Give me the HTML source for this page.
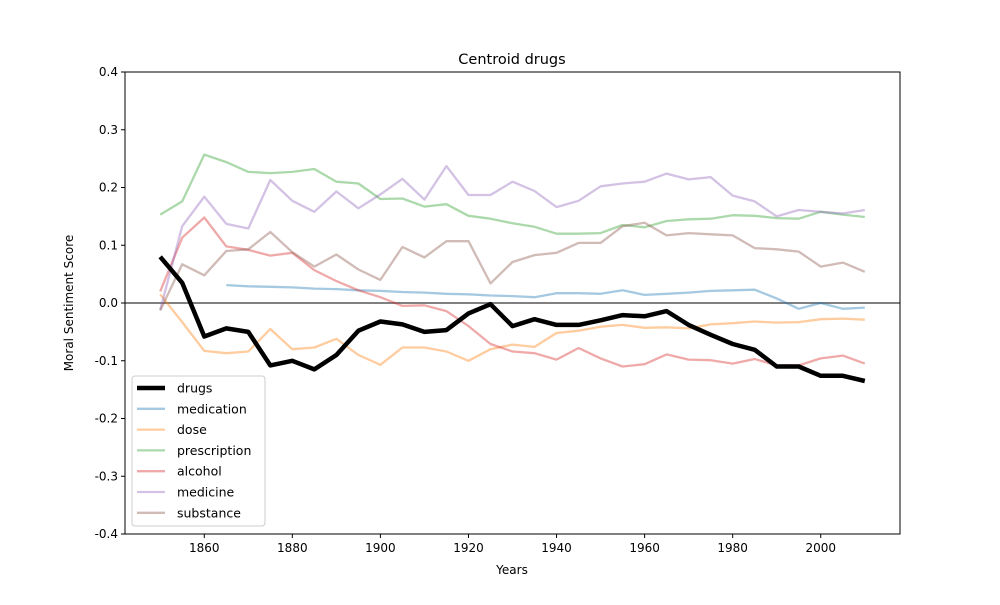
<!DOCTYPE html>
<html><head><meta charset="utf-8"><style>body{margin:0;background:#fff}svg{font-family:"DejaVu Sans","Liberation Sans",sans-serif}</style></head>
<body>
<svg id="c" width="1000" height="600"></svg>
<script>
const years=[];for(let y=1850;y<=2010;y+=5)years.push(y);
const drugs=[0.08,0.035,-0.058,-0.044,-0.05,-0.108,-0.1,-0.115,-0.09,-0.048,-0.032,-0.037,-0.05,-0.047,-0.018,-0.002,-0.04,-0.028,-0.038,-0.038,-0.03,-0.021,-0.023,-0.014,-0.038,-0.055,-0.071,-0.081,-0.11,-0.11,-0.126,-0.126,-0.135];
const medication=[null,null,null,0.031,0.029,0.028,0.027,0.025,0.024,0.022,0.021,0.019,0.018,0.016,0.015,0.013,0.012,0.010,0.017,0.017,0.016,0.022,0.014,0.016,0.018,0.021,0.022,0.023,0.008,-0.01,0,-0.01,-0.008];
const dose=[0.015,-0.033,-0.083,-0.087,-0.084,-0.045,-0.08,-0.077,-0.062,-0.09,-0.107,-0.077,-0.077,-0.084,-0.1,-0.08,-0.072,-0.076,-0.052,-0.048,-0.041,-0.038,-0.043,-0.042,-0.044,-0.037,-0.035,-0.032,-0.034,-0.033,-0.028,-0.027,-0.029];
const prescription=[0.153,0.176,0.257,0.244,0.227,0.225,0.227,0.232,0.21,0.207,0.18,0.181,0.167,0.171,0.151,0.146,0.138,0.132,0.12,0.12,0.121,0.135,0.131,0.142,0.145,0.146,0.152,0.151,0.147,0.146,0.158,0.153,0.149];
const alcohol=[0.02,0.113,0.148,0.098,0.092,0.082,0.087,0.057,0.038,0.022,0.01,-0.005,-0.004,-0.014,-0.04,-0.071,-0.084,-0.087,-0.098,-0.078,-0.096,-0.11,-0.106,-0.089,-0.098,-0.099,-0.105,-0.097,-0.108,-0.108,-0.096,-0.091,-0.105];
const medicine=[-0.012,0.133,0.184,0.137,0.129,0.213,0.177,0.158,0.193,0.164,0.188,0.215,0.179,0.237,0.187,0.187,0.21,0.194,0.166,0.177,0.202,0.207,0.21,0.224,0.214,0.218,0.186,0.176,0.15,0.161,0.158,0.155,0.161];
const substance=[-0.013,0.067,0.048,0.09,0.093,0.123,0.088,0.063,0.084,0.058,0.04,0.097,0.079,0.107,0.107,0.034,0.071,0.083,0.087,0.104,0.104,0.133,0.139,0.117,0.121,0.119,0.117,0.095,0.093,0.089,0.063,0.07,0.054];
const xTicks=[1860,1880,1900,1920,1940,1960,1980,2000];
const yTicks=[-0.4,-0.3,-0.2,-0.1,0.0,0.1,0.2,0.3,0.4];
const L=125,R=900,T=72,B=534;
const xs=y=>L+(y-1842)/(2018-1842)*(R-L);
const ys=v=>B-(v+0.4)/0.8*(B-T);
const svg=document.getElementById('c');const NS='http://www.w3.org/2000/svg';
function mk(t,a,txt){const e=document.createElementNS(NS,t);for(const k in a)e.setAttribute(k,a[k]);if(txt!==undefined)e.textContent=txt;svg.appendChild(e);return e;}
let e=mk('text',{x:512,y:64,'text-anchor':'middle','font-size':14.5},'Centroid drugs');


xTicks.forEach(t=>{mk('line',{x1:xs(t),x2:xs(t),y1:B,y2:B+4,stroke:'#000'});
 const tx=mk('text',{x:xs(t),y:B+18,'text-anchor':'middle','font-size':12},String(t));
 
 });
yTicks.forEach(t=>{mk('line',{x1:L-4,x2:L,y1:ys(t),y2:ys(t),stroke:'#000'});
 const tx=mk('text',{x:L-7,y:ys(t)+4,'text-anchor':'end','font-size':12},t.toFixed(1));
 
 });
e=mk('text',{x:512,y:574,'text-anchor':'middle','font-size':12},'Years');


e=mk('text',{x:73,y:303,'text-anchor':'middle','font-size':12,transform:'rotate(-90 73 303)'},'Moral Sentiment Score');


mk('line',{x1:L,x2:R,y1:ys(0),y2:ys(0),stroke:'#808080','stroke-width':2});
const series=[['medication',medication,'#1f77b4'],['dose',dose,'#ff7f0e'],['prescription',prescription,'#2ca02c'],['alcohol',alcohol,'#d62728'],['medicine',medicine,'#9467bd'],['substance',substance,'#8c564b']];
function path(vals){let d='';let st=true;vals.forEach((v,i)=>{if(v===null){st=true;return;}d+=(st?'M':'L')+xs(years[i]).toFixed(1)+','+ys(v).toFixed(1);st=false;});return d;}
series.forEach(s=>{const p=mk('path',{d:path(s[1]),fill:'none',stroke:s[2],'stroke-width':2.3,'stroke-opacity':0.4,'stroke-linejoin':'round'});
 
 });
e=mk('path',{d:path(drugs),fill:'none',stroke:'#000','stroke-width':4.5,'stroke-linejoin':'round'});


mk('rect',{x:L,y:T,width:R-L,height:B-T,fill:'none',stroke:'#000','stroke-width':1});
const lg=mk('rect',{x:132,y:376,width:133,height:150,fill:'#fff','fill-opacity':0.8,stroke:'#ccc',rx:3});


const entries=[['drugs','#000',1,4.5]].concat(series.map(s=>[s[0],s[2],0.4,2.3]));
entries.forEach((en,i)=>{const y=388+i*20.8;
 mk('line',{x1:137,x2:165,y1:y,y2:y,stroke:en[1],'stroke-opacity':en[2],'stroke-width':en[3]});
 const tx=mk('text',{x:177,y:y+4.5,'font-size':12.5},en[0]);
 
 });
</script>
</body></html>
